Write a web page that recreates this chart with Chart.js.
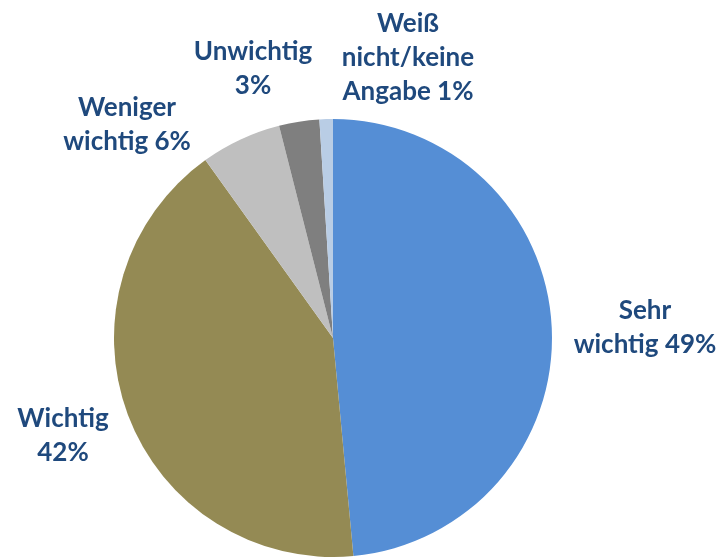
<!DOCTYPE html>
<html>
<head>
<meta charset="utf-8">
<script src="https://cdn.jsdelivr.net/npm/chart.js@4"></script>
<style>
  html, body { margin: 0; padding: 0; background: #fff; }
  #wrap { width: 725px; height: 557px; }
</style>
</head>
<body>
<div id="wrap"><canvas id="c" width="725" height="557"></canvas></div>
<script>
// data
const categories = ['Sehr wichtig', 'Wichtig', 'Weniger wichtig', 'Unwichtig', 'Weiß nicht/keine Angabe'];
const values = [49, 42, 6, 3, 1];
const labelLines = [
  ['Sehr', 'wichtig 49%'],
  ['Wichtig', '42%'],
  ['Weniger', 'wichtig 6%'],
  ['Unwichtig', '3%'],
  ['Weiß', 'nicht/keine', 'Angabe 1%'],
];
const colors = ['#558ED5', '#948A54', '#BFBFBF', '#7F7F7F', '#B9CDE5'];

// label placement relative to pie centre (first-line baseline)
const labelOffsets = [
  [312, -19],
  [-270, 89],
  [-206, -222],
  [-80, -278],
  [75, -306],
];

const outsideLabels = {
  id: 'outsideLabels',
  afterDraw(chart) {
    const ctx = chart.ctx;
    const arc0 = chart.getDatasetMeta(0).data[0];
    const cx = arc0.x, cy = arc0.y;
    ctx.save();
    ctx.fillStyle = '#1F497D';
    ctx.font = 'bold 26px Lato, "Open Sans", sans-serif';
    ctx.textAlign = 'center';
    ctx.textBaseline = 'alphabetic';
    labelLines.forEach((lines, i) => {
      const x = cx + labelOffsets[i][0];
      let y = cy + labelOffsets[i][1];
      lines.forEach(l => {
        ctx.fillText(l, x, y);
        y += 34;
      });
    });
    ctx.restore();
  }
};

const ctx = document.getElementById('c').getContext('2d');
new Chart(ctx, {
  type: 'pie',
  data: {
    labels: categories,
    datasets: [{
      data: values,
      backgroundColor: colors,
      borderWidth: 0,
    }],
  },
  options: {
    responsive: false,
    animation: false,
    layout: { padding: { top: 119, bottom: 0, left: 0, right: 59 } },
    plugins: {
      legend: { display: false },
      tooltip: { enabled: false },
    },
  },
  plugins: [outsideLabels],
});
</script>
</body>
</html>
